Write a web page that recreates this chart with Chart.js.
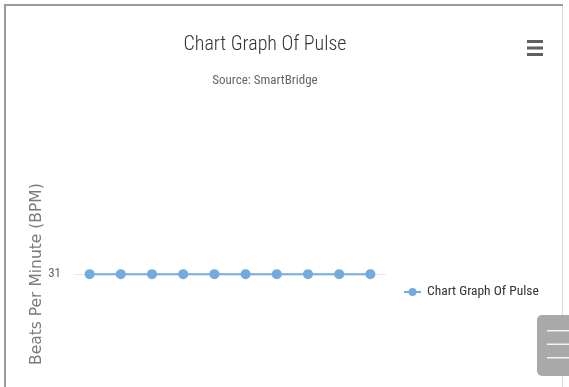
<!DOCTYPE html>
<html>
<head>
<meta charset="utf-8">
<script src="https://cdn.jsdelivr.net/npm/chart.js@4/dist/chart.umd.min.js"></script>
<style>
  html, body { margin: 0; padding: 0; background: #ffffff; }
  #wrap { position: relative; width: 569px; height: 387px; }
  canvas { display: block; }
</style>
</head>
<body>
<div id="wrap"><canvas id="c" width="569" height="387"></canvas></div>
<script>
// ---- data ----
const categories = ['1', '2', '3', '4', '5', '6', '7', '8', '9', '10'];
const pulseValues = [31, 31, 31, 31, 31, 31, 31, 31, 31, 31];
const yTickValues = [31];
const seriesName = 'Chart Graph Of Pulse';
const chartTitle = 'Chart Graph Of Pulse';
const chartSubtitle = 'Source: SmartBridge';
const yAxisTitle = 'Beats Per Minute (BPM)';

const lineColor = '#72acdf';
const narrow = '"Roboto Condensed", "Liberation Sans Narrow", Roboto, sans-serif';

const decorPlugin = {
  id: 'decor',
  beforeDraw(chart) {
    const ctx = chart.ctx;
    ctx.save();
    ctx.fillStyle = '#ffffff';
    ctx.fillRect(0, 0, chart.width, chart.height);
    // frame
    ctx.fillStyle = '#9a9a9a';
    ctx.fillRect(4, 4, 559, 2);
    ctx.fillRect(4, 4, 2, chart.height - 4);
    ctx.fillStyle = '#d8d8d8';
    ctx.fillRect(562, 6, 1, chart.height - 6);
    ctx.restore();
  },
  afterDraw(chart) {
    const ctx = chart.ctx;
    const ds = chart.data.datasets[0];
    ctx.save();
    // legend
    const ly = 292;
    ctx.strokeStyle = ds.borderColor;
    ctx.lineWidth = 2;
    ctx.beginPath();
    ctx.moveTo(404, ly);
    ctx.lineTo(421, ly);
    ctx.stroke();
    ctx.fillStyle = ds.pointBackgroundColor;
    ctx.beginPath();
    ctx.arc(412.5, ly, 4, 0, Math.PI * 2);
    ctx.fill();
    ctx.fillStyle = '#333333';
    ctx.font = '13.5px ' + narrow;
    ctx.textBaseline = 'middle';
    ctx.textAlign = 'left';
    ctx.fillText(ds.label, 427, ly);
    // hamburger (context menu)
    ctx.fillStyle = '#5f5f5f';
    [40, 46.5, 53].forEach(y => ctx.fillRect(527, y, 16, 3));
    // bottom-right gray button
    ctx.fillStyle = '#a9a9a9';
    const bx = 537, by = 315, bw = 40, bh = 61, r = 5;
    ctx.beginPath();
    ctx.moveTo(bx + r, by);
    ctx.lineTo(bx + bw, by);
    ctx.lineTo(bx + bw, by + bh);
    ctx.lineTo(bx + r, by + bh);
    ctx.arcTo(bx, by + bh, bx, by + bh - r, r);
    ctx.lineTo(bx, by + r);
    ctx.arcTo(bx, by, bx + r, by, r);
    ctx.closePath();
    ctx.fill();
    ctx.fillStyle = '#f4f4f4';
    [330, 343.5, 357].forEach(y => ctx.fillRect(547, y, 22, 1.5));
    ctx.restore();
  }
};

new Chart(document.getElementById('c'), {
  type: 'line',
  data: {
    labels: categories,
    datasets: [{
      label: seriesName,
      data: pulseValues,
      borderColor: lineColor,
      backgroundColor: lineColor,
      pointBackgroundColor: lineColor,
      pointBorderColor: lineColor,
      borderWidth: 2,
      pointRadius: 4,
      pointHoverRadius: 4,
      tension: 0,
      yAxisID: 'y'
    }]
  },
  plugins: [decorPlugin],
  options: {
    responsive: false,
    animation: false,
    devicePixelRatio: 1,
    layout: { padding: { left: 0, right: 39, top: 0, bottom: 0 } },
    plugins: {
      legend: { display: false },
      tooltip: { enabled: false },
      title: {
        display: true,
        text: chartTitle,
        color: '#333333',
        font: { family: narrow, size: 20, weight: '300', lineHeight: 1.2 },
        padding: { top: 33, bottom: 0 }
      },
      subtitle: {
        display: true,
        text: chartSubtitle,
        color: '#666666',
        font: { family: narrow, size: 13, weight: 'normal', lineHeight: 1.2 },
        padding: { top: 16, bottom: 93.5 }
      }
    },
    scales: {
      x: {
        display: false,
        offset: true
      },
      y: {
        position: 'left',
        min: 30,
        max: 32,
        afterBuildTicks: s => { s.ticks = yTickValues.map(v => ({ value: v })); },
        afterFit: s => { s.width = 74; },
        grid: { color: '#e6e6e6', lineWidth: 1, drawTicks: false },
        border: { display: false },
        ticks: {
          color: '#666666',
          padding: 13,
          font: { family: narrow, size: 13 }
        },
        title: {
          display: true,
          text: yAxisTitle,
          color: '#7a7a7a',
          font: { family: '"DejaVu Sans", sans-serif', size: 15.5, lineHeight: 1.2 },
          padding: { top: 28, bottom: 0 }
        }
      },
      spacer: {
        type: 'linear',
        position: 'right',
        display: true,
        afterFit: s => { s.width = 144; },
        grid: { display: false, drawTicks: false },
        border: { display: false },
        ticks: { display: false }
      }
    }
  }
});
</script>
</body>
</html>
